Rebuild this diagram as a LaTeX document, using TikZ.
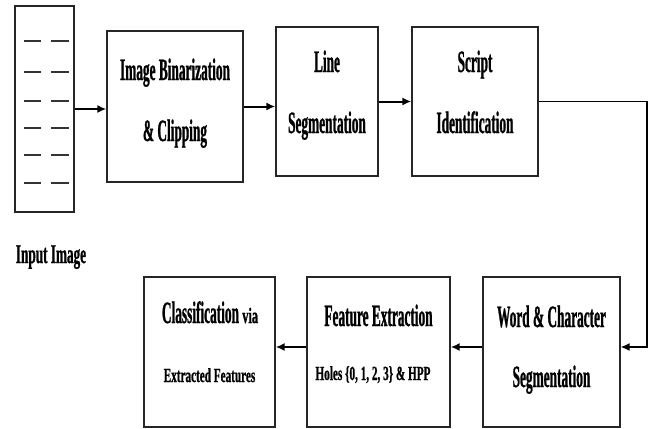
\documentclass[tikz,border=0pt]{standalone}
\usepackage{fontspec}
\setmainfont{Liberation Serif}
\newfontfamily\bigfnt[FakeStretch=0.43, BoldFeatures={FakeBold=0.8}]{Liberation Serif}
\newfontfamily\inpfnt[FakeStretch=0.49, BoldFeatures={FakeBold=0.8}]{Liberation Serif}
\newfontfamily\smlfnt[FakeStretch=0.56, BoldFeatures={FakeBold=0.8}]{Liberation Serif}
\usetikzlibrary{arrows.meta}
\begin{document}
\begin{tikzpicture}[x=1pt,y=-1pt,
  box/.style={draw=black!85, line width=1.3pt, rectangle, inner sep=0pt},
  big/.style={anchor=base, inner sep=0pt, font=\bigfnt\bfseries\fontsize{31}{31}\selectfont},
  small/.style={anchor=base, inner sep=0pt, font=\smlfnt\bfseries\fontsize{20}{20}\selectfont},
  arr/.style={line width=2pt, -{Latex[length=9pt,width=8pt]}},
  link/.style={line width=1.5pt, -{Latex[length=9pt,width=8pt]}},
  dsh/.style={line width=2.3pt, black!80}]
\useasboundingbox (0,0) rectangle (652,428);
% boxes
\node[box, minimum width=59pt, minimum height=206pt] (in) at (44.5,109) {};
\node[box, minimum width=136pt, minimum height=151pt] (b1) at (175,106.5) {};
\node[box, minimum width=102pt, minimum height=149pt] (b2) at (327,101.5) {};
\node[box, minimum width=126pt, minimum height=149pt] (b3) at (475,101.5) {};
\node[box, minimum width=137pt, minimum height=150pt] (w) at (551.5,352) {};
\node[box, minimum width=143pt, minimum height=150pt] (fe) at (378.5,352) {};
\node[box, minimum width=131pt, minimum height=150pt] (cl) at (209.5,352) {};
% dashes of the input image
\foreach \yy in {41,72,101,128,155,183} {
  \draw[dsh] (24,\yy) -- (41,\yy);
  \draw[dsh] (51,\yy) -- (69,\yy);
}
% texts
\node[anchor=base, inner sep=0pt, font=\inpfnt\bfseries\fontsize{27}{27}\selectfont] (tin) at (51,263) {Input Image};
\node[big] (t1a) at (175,80) {Image Binarization};
\node[big] (t1b) at (175,141) {\& Clipping};
\node[big] (t2a) at (327,72) {Line};
\node[big] (t2b) at (327,133) {Segmentation};
\node[big] (t3a) at (475,72) {Script};
\node[big] (t3b) at (475,133) {Identification};
\node[big] (twa) at (551.5,327) {Word \& Character};
\node[big] (twb) at (551.5,387) {Segmentation};
\node[big] (tfa) at (378.5,326) {Feature Extraction};
\node[small] (tfb) at (373,380) {Holes \{0, 1, 2, 3\} \& HPP};
\node[big] (tca) at (210,323) {Classification {\smlfnt\fontsize{22}{22}\selectfont via}};
\node[small] (tcb) at (209.5,382) {Extracted Features};
% connectors
\coordinate (turn) at (647,101.5);
\draw[arr] (in.east) -- (in.east -| b1.west);
\draw[arr] (b1.east) -- (b1.east -| b2.west);
\draw[arr] (b2.east) -- (b3.west);
\draw[link] (b3.east) -- (turn) |- ([yshift=5pt]w.east);
\draw[arr] ([yshift=5pt]w.west) -- ([yshift=5pt]fe.east);
\draw[arr] ([yshift=5pt]fe.west) -- ([yshift=5pt]cl.east);
\end{tikzpicture}
\end{document}
